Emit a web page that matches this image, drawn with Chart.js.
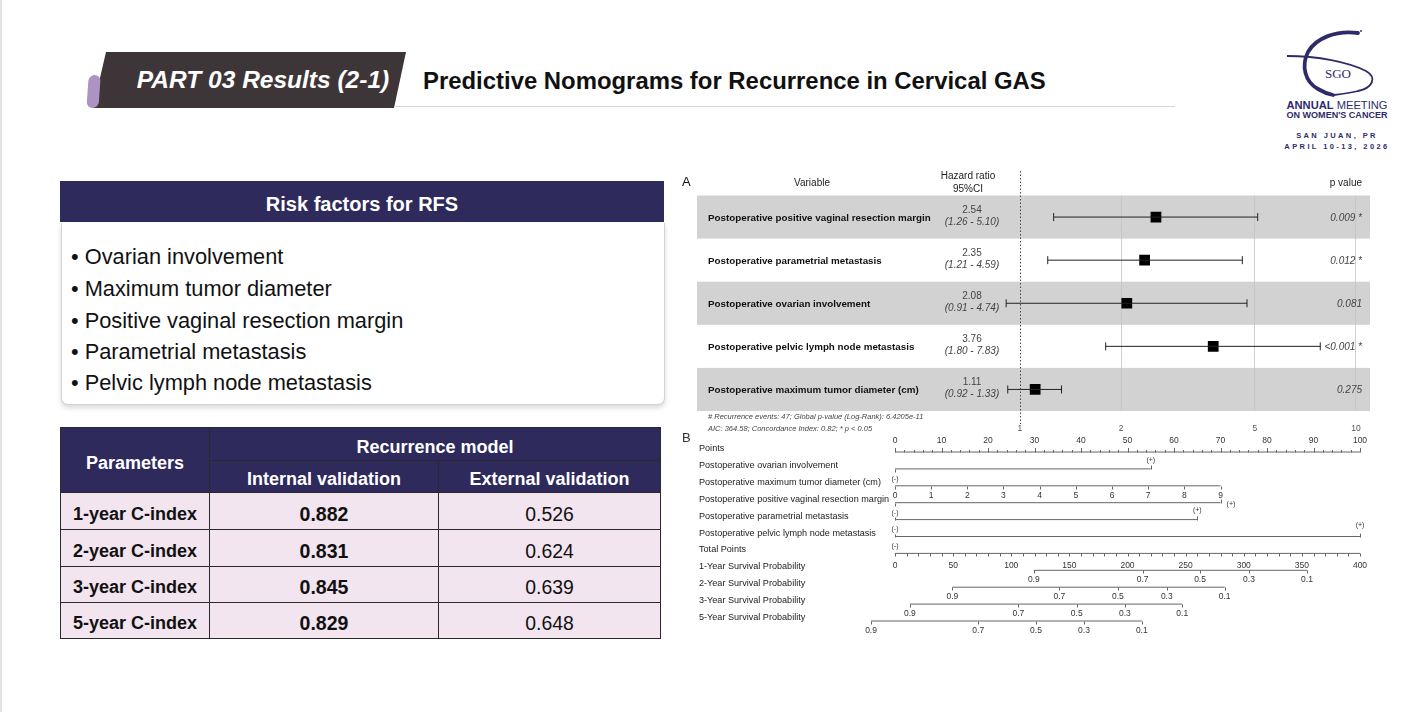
<!DOCTYPE html>
<html lang="en">
<head>
<meta charset="UTF-8">
<title>Predictive Nomograms for Recurrence in Cervical GAS</title>
<script src="https://cdn.jsdelivr.net/npm/chart.js"></script>
<style>
  html, body { margin: 0; padding: 0; }
  body { width: 1428px; height: 712px; position: relative; overflow: hidden; background: #fff; font-family: "Liberation Sans", Arial, sans-serif; }
  .edge { position: absolute; left: 0; top: 0; width: 2px; height: 712px; background: #e2e2e2; }
  .title { position: absolute; left: 423px; top: 67px; font-size: 23.9px; font-weight: bold; color: #111; white-space: nowrap; }
  .rule { position: absolute; left: 394px; top: 106px; width: 781px; height: 1px; background: #d6d6d6; }
  .tab-text { position: absolute; left: 113px; width: 300px; top: 66px; text-align: center; color: #fff; font-size: 24.5px; font-weight: bold; font-style: italic; white-space: nowrap; }
  .rf-head { position: absolute; left: 60px; top: 181px; width: 604px; height: 41px; background: #2f2a5c; color: #fff; font-weight: bold; font-size: 20px; text-align: center; line-height: 46px; }
  .rf-body { position: absolute; left: 61px; top: 223px; width: 602px; height: 181px; border: 1px solid #d4d0dc; border-top: none; border-radius: 0 0 7px 7px; box-shadow: 0 3px 5px rgba(0,0,0,0.15); background: #fff; }
  .rf-body div { position: absolute; left: 9px; font-size: 21.8px; color: #111; white-space: nowrap; }
  table { position: absolute; left: 60px; top: 427px; width: 600px; table-layout: fixed; border-collapse: collapse; font-size: 18px; }
  td, th { border: 1px solid #2a2a2a; text-align: center; padding: 0; }
  th { background: #2f2a5c; color: #fff; font-weight: bold; padding-top: 6px; box-sizing: border-box; }
  td { background: #f2e5ef; color: #111; padding-top: 6px; box-sizing: border-box; font-size: 19.4px; }
  td.p { font-weight: bold; font-size: 18px; }
  td.b { font-weight: bold; font-size: 19.5px; }
  #forest { position: absolute; left: 680px; top: 165px; }
  #nomo { position: absolute; left: 680px; top: 430px; }
  .logo { position: absolute; left: 1270px; top: 20px; }
</style>
</head>
<body>
<div class="edge"></div>

<svg style="position:absolute;left:0;top:0" width="420" height="120">
  <polygon points="106,52 406,52 394,108 93,108" fill="#3e3539"/>
  <rect x="88" y="75" width="12" height="33" rx="6" fill="#ab94c2" transform="skewX(-4) translate(6,0)"/>
</svg>
<div class="tab-text">PART 03 Results (2-1)</div>
<div class="title">Predictive Nomograms for Recurrence in Cervical GAS</div>
<div class="rule"></div>

<svg class="logo" width="158" height="140" viewBox="1270 20 158 140">
  <path d="M1358 33 C1336 30 1316 38 1308 52 C1301 66 1305 82 1318 89 C1323 92 1328 94 1333 95" fill="none" stroke="#2e2b6b" stroke-width="3.8" stroke-linecap="round"/>
  <path d="M1287 56 C1318 56 1348 62 1366 71 C1378 78 1372 88 1358 91 C1350 93 1342 94 1334 95" fill="none" stroke="#2e2b6b" stroke-width="1.8"/>
  <circle cx="1361" cy="31" r="0.9" fill="#2e2b6b"/>
  <text x="1338" y="78" text-anchor="middle" font-family="Liberation Serif, DejaVu Serif, serif" font-size="13" fill="#2e2b6b">SGO</text>
  <text x="1337" y="109" text-anchor="middle" font-family="Liberation Sans, Arial" font-size="11" fill="#2e2b6b" textLength="101" lengthAdjust="spacingAndGlyphs"><tspan font-weight="bold">ANNUAL</tspan> MEETING</text>
  <text x="1337" y="118" text-anchor="middle" font-family="Liberation Sans, Arial" font-size="8.5" font-weight="bold" fill="#2e2b6b" textLength="101" lengthAdjust="spacingAndGlyphs">ON WOMEN'S CANCER</text>
  <text x="1337" y="138" text-anchor="middle" font-family="Liberation Sans, Arial" font-size="7.5" letter-spacing="2.4" font-weight="bold" fill="#2e2b6b">SAN JUAN, PR</text>
  <text x="1337" y="149" text-anchor="middle" font-family="Liberation Sans, Arial" font-size="7.5" letter-spacing="2.4" font-weight="bold" fill="#2e2b6b">APRIL 10-13, 2026</text>
</svg>

<div class="rf-head">Risk factors for RFS</div>
<div class="rf-body">
  <div style="top:21px">• Ovarian involvement</div>
  <div style="top:53px">• Maximum tumor diameter</div>
  <div style="top:85px">• Positive vaginal resection margin</div>
  <div style="top:116px">• Parametrial metastasis</div>
  <div style="top:147px">• Pelvic lymph node metastasis</div>
</div>

<table>
  <colgroup><col style="width:149px"><col style="width:229px"><col style="width:222px"></colgroup>
  <tr style="height:33px"><th rowspan="2">Parameters</th><th colspan="2">Recurrence model</th></tr>
  <tr style="height:32px"><th>Internal validation</th><th>External validation</th></tr>
  <tr style="height:37px"><td class="p">1-year C-index</td><td class="b">0.882</td><td>0.526</td></tr>
  <tr style="height:37px"><td class="p">2-year C-index</td><td class="b">0.831</td><td>0.624</td></tr>
  <tr style="height:36px"><td class="p">3-year C-index</td><td class="b">0.845</td><td>0.639</td></tr>
  <tr style="height:36px"><td class="p">5-year C-index</td><td class="b">0.829</td><td>0.648</td></tr>
</table>

<canvas id="forest" width="700" height="275"></canvas>
<canvas id="nomo" width="700" height="215"></canvas>

<script>
// ---- A: forest plot data ----
const forestVars = [
  'Postoperative positive vaginal resection margin',
  'Postoperative parametrial metastasis',
  'Postoperative ovarian involvement',
  'Postoperative pelvic lymph node metastasis',
  'Postoperative maximum tumor diameter (cm)'
];
const hazardRatio = [2.54, 2.35, 2.08, 3.76, 1.11];
const ciLower = [1.26, 1.21, 0.91, 1.80, 0.92];
const ciUpper = [5.10, 4.59, 4.74, 7.83, 1.33];
const pValues = ['0.009 *', '0.012 *', '0.081', '<0.001 *', '0.275'];
const forestTicks = [1, 2, 5, 10];

// ---- B: nomogram data ----
const nomoLabels = [
  'Points',
  'Postoperative ovarian involvement',
  'Postoperative maximum tumor diameter (cm)',
  'Postoperative positive vaginal resection margin',
  'Postoperative parametrial metastasis',
  'Postoperative pelvic lymph node metastasis',
  'Total Points',
  '1-Year Survival Probability',
  '2-Year Survival Probability',
  '3-Year Survival Probability',
  '5-Year Survival Probability'
];
const pointsTicks = [0, 10, 20, 30, 40, 50, 60, 70, 80, 90, 100];
const ovarianPoints = 55;
const diameterValues = [0, 1, 2, 3, 4, 5, 6, 7, 8, 9];
const diameterPoints = [0, 7.78, 15.56, 23.33, 31.11, 38.89, 46.67, 54.44, 62.22, 70];
const vaginalPoints = 70;
const parametrialPoints = 65;
const pelvicPoints = 100;
const totalTicks = [0, 50, 100, 150, 200, 250, 300, 350, 400];
const survLabels = ['0.9', '0.7', '0.5', '0.3', '0.1'];
const surv1Total = [119.4, 213, 262.4, 304.5, 354.4];
const surv2Total = [49.3, 141.4, 191.7, 233.8, 283.6];
const surv3Total = [12.8, 106.1, 156.3, 197.8, 247.1];
const surv5Total = [-20.6, 71.6, 121.3, 162.6, 212.3];

const narrow = '"Liberation Sans Narrow", "Arial Narrow", "Liberation Sans", Arial, sans-serif';

// ---------- forest plot ----------
const whiskers = forestVars.map((v, i) => ({
  data: [{x: ciLower[i], y: i}, {x: ciUpper[i], y: i}],
  showLine: true,
  borderColor: '#222',
  borderWidth: 1,
  pointStyle: 'line',
  pointRotation: 90,
  pointRadius: 4,
  pointBorderColor: '#222',
  pointBorderWidth: 1,
  clip: false
}));

const forestText = {
  id: 'forestText',
  beforeDraw(chart) {
    const {ctx, chartArea: a, scales: {y}} = chart;
    ctx.save();
    ctx.fillStyle = '#d2d2d2';
    [0, 2, 4].forEach(i => {
      const t = y.getPixelForValue(i - 0.5), b = y.getPixelForValue(i + 0.5);
      ctx.fillRect(a.left, t, a.right - a.left, b - t);
    });
    ctx.restore();
  },
  afterDatasetsDraw(chart) {
    const {ctx, scales: {x, y}} = chart;
    ctx.save();
    // dotted reference at HR = 1
    ctx.strokeStyle = '#444';
    ctx.lineWidth = 1;
    ctx.setLineDash([1.5, 2]);
    const x1 = Math.round(x.getPixelForValue(1)) + 0.5;
    ctx.beginPath(); ctx.moveTo(x1, 6); ctx.lineTo(x1, 259); ctx.stroke();
    ctx.setLineDash([]);

    ctx.textBaseline = 'middle';
    ctx.fillStyle = '#111';
    ctx.font = '13px "Liberation Sans", Arial';
    ctx.fillText('A', 2, 17);
    ctx.font = '10px ' + narrow;
    ctx.fillStyle = '#222';
    ctx.textAlign = 'center';
    ctx.fillText('Variable', 132, 18);
    ctx.fillText('Hazard ratio', 288, 11);
    ctx.fillText('95%CI', 288, 24);
    ctx.textAlign = 'right';
    ctx.fillText('p value', 682, 18);

    forestVars.forEach((name, i) => {
      const py = y.getPixelForValue(i);
      ctx.textAlign = 'left';
      ctx.fillStyle = '#111';
      ctx.font = 'bold 9.8px ' + narrow;
      ctx.fillText(name, 28, py + 1);
      ctx.textAlign = 'center';
      ctx.fillStyle = '#444';
      ctx.font = '10px ' + narrow;
      ctx.fillText(hazardRatio[i].toFixed(2), 292, py - 7);
      ctx.font = 'italic 10px ' + narrow;
      ctx.fillText('(' + ciLower[i].toFixed(2) + ' - ' + ciUpper[i].toFixed(2) + ')', 292, py + 5);
      ctx.textAlign = 'right';
      ctx.fillText(pValues[i], 682, py + 1);
    });

    ctx.textAlign = 'left';
    ctx.fillStyle = '#444';
    ctx.font = 'italic 7.5px ' + narrow;
    ctx.fillText('# Recurrence events: 47; Global p-value (Log-Rank): 6.4205e-11', 28, 252);
    ctx.fillText('AIC: 364.58; Concordance Index: 0.82; * p < 0.05', 28, 264);
    ctx.restore();
  }
};

new Chart(document.getElementById('forest'), {
  type: 'scatter',
  data: {
    datasets: [
      ...whiskers,
      {
        data: hazardRatio.map((v, i) => ({x: v, y: i})),
        pointStyle: 'rect',
        pointRadius: 7.6,
        backgroundColor: '#000',
        borderColor: '#000',
        borderWidth: 0
      }
    ]
  },
  options: {
    responsive: false,
    animation: false,
    events: [],
    layout: {padding: {left: 17, right: 10, top: 30.5, bottom: 5}},
    plugins: {legend: {display: false}, tooltip: {enabled: false}},
    scales: {
      x: {
        type: 'logarithmic',
        min: 0.1094,
        max: 11.01,
        afterBuildTicks: s => { s.ticks = forestTicks.map(v => ({value: v})); },
        afterFit: s => { s.height = 24; },
        border: {display: false},
        grid: {
          drawTicks: false,
          color: c => c.tick && c.tick.value === 1 ? 'rgba(0,0,0,0)' : '#c4c4c4',
          lineWidth: 0.8
        },
        ticks: {
          padding: 13,
          color: '#555',
          font: {size: 8.5, family: narrow},
          callback: v => String(v)
        }
      },
      y: {type: 'linear', reverse: true, min: -0.5, max: 4.5, display: false}
    }
  },
  plugins: [forestText]
});

// ---------- nomogram ----------
const toPts = t => t / 4;
const rowLines = [
  [0, 100],
  [0, ovarianPoints],
  [0, diameterPoints[diameterPoints.length - 1]],
  [0, vaginalPoints],
  [0, parametrialPoints],
  [0, pelvicPoints],
  [0, toPts(totalTicks[totalTicks.length - 1])],
  [toPts(surv1Total[0]), toPts(surv1Total[4])],
  [toPts(surv2Total[0]), toPts(surv2Total[4])],
  [toPts(surv3Total[0]), toPts(surv3Total[4])],
  [toPts(surv5Total[0]), toPts(surv5Total[4])]
];

const nomoText = {
  id: 'nomoText',
  afterDatasetsDraw(chart) {
    const {ctx, scales: {x, y}} = chart;
    const px = v => x.getPixelForValue(v);
    const tick = (v, row, len) => {
      const xx = Math.round(px(v)) + 0.5, yy = Math.round(y.getPixelForValue(row)) + 0.5;
      ctx.beginPath(); ctx.moveTo(xx, yy); ctx.lineTo(xx, yy + len); ctx.stroke();
    };
    const label = (txt, v, row, dy, size) => {
      ctx.font = (size || 8.5) + 'px ' + narrow;
      ctx.fillText(txt, px(v), y.getPixelForValue(row) + dy);
    };
    ctx.save();
    ctx.strokeStyle = '#666';
    ctx.lineWidth = 1;
    ctx.fillStyle = '#333';
    ctx.textBaseline = 'middle';

    ctx.font = '13px "Liberation Sans", Arial';
    ctx.textAlign = 'left';
    ctx.fillText('B', 2, 8);
    ctx.font = '9.1px ' + narrow;
    ctx.fillStyle = '#222';
    nomoLabels.forEach((t, i) => ctx.fillText(t, 19, y.getPixelForValue(i) - 3.5));
    ctx.fillStyle = '#333';

    ctx.textAlign = 'center';
    // Points axis
    for (let v = 0; v <= 100; v += 2) tick(v, 0, v % 10 === 0 ? -4.5 : -2.5);
    pointsTicks.forEach(v => label(String(v), v, 0, -11));
    // ovarian
    tick(0, 1, 3); tick(ovarianPoints, 1, -4);
    label('(+)', ovarianPoints, 1, -9, 7);
    // tumor diameter
    diameterPoints.forEach((p, j) => { tick(p, 2, 3); label(String(diameterValues[j]), p, 2, 9.5); });
    label('(-)', 0, 2, -7, 7);
    // vaginal margin
    tick(0, 3, 3); tick(vaginalPoints, 3, -4);
    ctx.textAlign = 'left';
    label('(+)', vaginalPoints + 1.3, 3, 1, 7);
    ctx.textAlign = 'center';
    // parametrial
    tick(0, 4, -3); tick(parametrialPoints, 4, -4);
    label('(-)', 0, 4, -7, 7);
    label('(+)', parametrialPoints, 4, -10, 7);
    // pelvic
    tick(0, 5, -3); tick(pelvicPoints, 5, -4);
    label('(-)', 0, 5, -7, 7);
    label('(+)', pelvicPoints, 5, -11, 7);
    // total points
    for (let t = 0; t <= 400; t += 10) tick(toPts(t), 6, 3);
    totalTicks.forEach(t => label(String(t), toPts(t), 6, 12));
    label('(-)', 0, 6, -7, 7);
    // survival
    [surv1Total, surv2Total, surv3Total, surv5Total].forEach((arr, k) => {
      arr.forEach((t, j) => { tick(toPts(t), 7 + k, 3); label(survLabels[j], toPts(t), 7 + k, 9.5); });
    });
    ctx.restore();
  }
};

new Chart(document.getElementById('nomo'), {
  type: 'line',
  data: {
    datasets: rowLines.map((r, i) => ({
      data: [{x: r[0], y: i}, {x: r[1], y: i}],
      borderColor: '#666',
      borderWidth: 1,
      pointRadius: 0,
      clip: false
    }))
  },
  options: {
    responsive: false,
    animation: false,
    events: [],
    layout: {padding: {left: 215, right: 20, top: 22, bottom: 24}},
    plugins: {legend: {display: false}, tooltip: {enabled: false}},
    scales: {
      x: {type: 'linear', min: 0, max: 100, display: false},
      y: {type: 'linear', reverse: true, min: 0, max: 10, display: false}
    }
  },
  plugins: [nomoText]
});
</script>
</body>
</html>
